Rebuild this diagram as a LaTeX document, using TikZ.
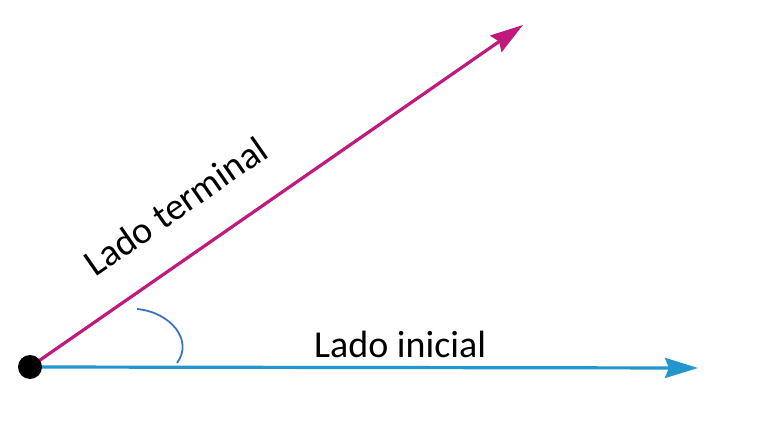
\documentclass[tikz,border=0pt]{standalone}
\usepackage{fontspec}
\setmainfont{Carlito}
\usetikzlibrary{arrows.meta}
\definecolor{termc}{HTML}{C01A7C}
\definecolor{initc}{HTML}{2196CF}
\definecolor{arcc}{HTML}{3A73BE}
\tikzset{
  ray/.style={line width=3.2pt, -{Stealth[length=33pt,width=20pt,inset=4pt]}},
  lbl/.style={font=\fontsize{38}{45}\selectfont, inner sep=0pt},
  vertex/.style={circle, fill=black, minimum size=24pt, inner sep=0pt}
}
\begin{document}
\begin{tikzpicture}[x=1pt,y=-1pt]
\useasboundingbox (0,0) rectangle (768,430);
\coordinate (O) at (30,367);
\coordinate (T) at (523,25);
\coordinate (I) at (698,368);
\coordinate (a1) at (137,309);
\coordinate (a2) at (177,363);
\draw[ray, termc] (O) -- (T);
\draw[ray, initc] (O) -- (I);
\draw[arcc, line width=1.8pt] (a1) .. controls (170,312) and (194,340) .. (a2);
\node[vertex] (dot) at (O) {};
\node[lbl, anchor=base west, rotate=34.8] (lt) at (95,278) {Lado terminal};
\node[lbl, anchor=base west] (li) at (314,357) {Lado inicial};
\end{tikzpicture}
\end{document}
